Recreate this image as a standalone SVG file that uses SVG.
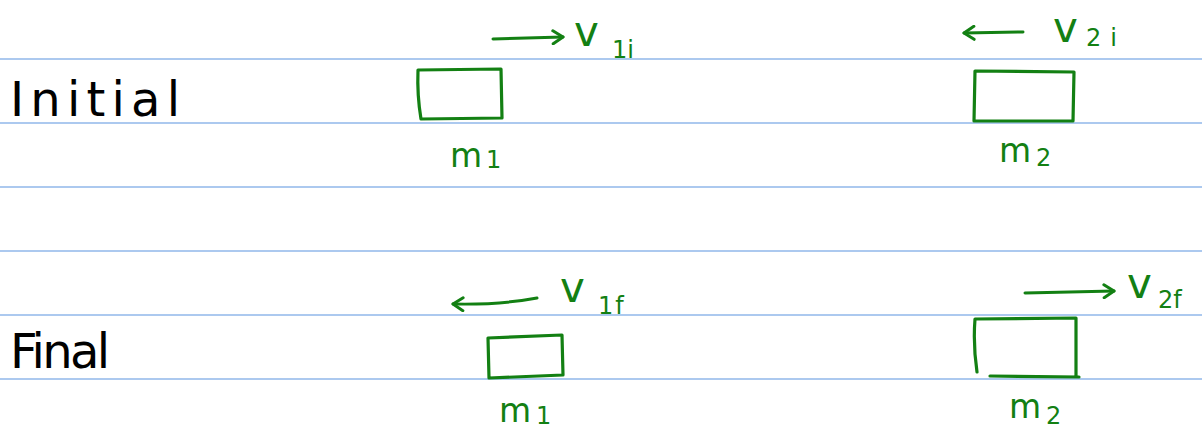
<svg xmlns="http://www.w3.org/2000/svg" width="1202" height="428" viewBox="0 0 1202 428">
<defs>
<marker id="ah" viewBox="0 0 16 16" refX="13" refY="8" markerWidth="16" markerHeight="16" markerUnits="userSpaceOnUse" orient="auto">
<path d="M3,1.5 L13,8 L3,14.5" fill="none" stroke="#138013" stroke-width="3" stroke-linecap="round" stroke-linejoin="round"/>
</marker>
<style>
.rule{stroke:#5b93e0;stroke-width:1.2}
.box{fill:none;stroke:#138013;stroke-width:3.2;stroke-linecap:round;stroke-linejoin:round}
.arr{fill:none;stroke:#138013;stroke-width:3;stroke-linecap:round}
.g{fill:#138013;font-family:"DejaVu Sans",sans-serif}
.k{fill:#000;font-family:"DejaVu Sans",sans-serif;font-size:48px}
.m{font-size:33px}
.v{font-size:42px}
.s{font-size:24px}
</style>
</defs>
<g id="rules">
<line class="rule" x1="0" y1="59" x2="1202" y2="59"/>
<line class="rule" x1="0" y1="123" x2="1202" y2="123"/>
<line class="rule" x1="0" y1="187" x2="1202" y2="187"/>
<line class="rule" x1="0" y1="251" x2="1202" y2="251"/>
<line class="rule" x1="0" y1="315" x2="1202" y2="315"/>
<line class="rule" x1="0" y1="379" x2="1202" y2="379"/>
</g>
<g id="label-initial"><text class="k" x="10" y="116" textLength="170" lengthAdjust="spacing">Initial</text></g>
<g id="label-final"><text class="k" x="10" y="368" textLength="100" lengthAdjust="spacing">Final</text></g>
<g id="m1-initial">
<path class="box" d="M418,70 L501,69 L502,118 L421,119 Q417,95 418,70 Z"/>
<text class="g m" x="450" y="167">m</text><text class="g s" x="486" y="168">1</text>
</g>
<g id="m2-initial">
<path class="box" d="M975,71 L1074,72 L1073,121 L974,121 Z"/>
<text class="g m" x="999" y="162">m</text><text class="g s" x="1036" y="166">2</text>
</g>
<g id="m1-final">
<path class="box" d="M488,338 L562,335 L563,375 L489,378 Z"/>
<text class="g m" x="499" y="422">m</text><text class="g s" x="536" y="424">1</text>
</g>
<g id="m2-final">
<path class="box" d="M977,372 Q973,345 975,319 L1076,318 L1076,377 M990,376 L1079,377"/>
<text class="g m" x="1009" y="418">m</text><text class="g s" x="1046" y="424">2</text>
</g>
<g id="connectors">
<line class="arr" x1="493" y1="39" x2="563" y2="37" marker-end="url(#ah)"/>
<line class="arr" x1="1023" y1="32" x2="964" y2="33" marker-end="url(#ah)"/>
<path class="arr" d="M537,298 Q500,305 453,304" marker-end="url(#ah)"/>
<line class="arr" x1="1025" y1="293" x2="1114" y2="291" marker-end="url(#ah)"/>
</g>
<g id="v1i"><text class="g v" x="574" y="46">v</text><text class="g s" x="612" y="58">1i</text></g>
<g id="v2i"><text class="g v" x="1053" y="42">v</text><text class="g s" x="1086" y="46" letter-spacing="9">2i</text></g>
<g id="v1f"><text class="g v" x="560" y="302">v</text><text class="g s" x="598" y="314" letter-spacing="2">1f</text></g>
<g id="v2f"><text class="g v" x="1127" y="298">v</text><text class="g s" x="1158" y="308">2f</text></g>
</svg>
